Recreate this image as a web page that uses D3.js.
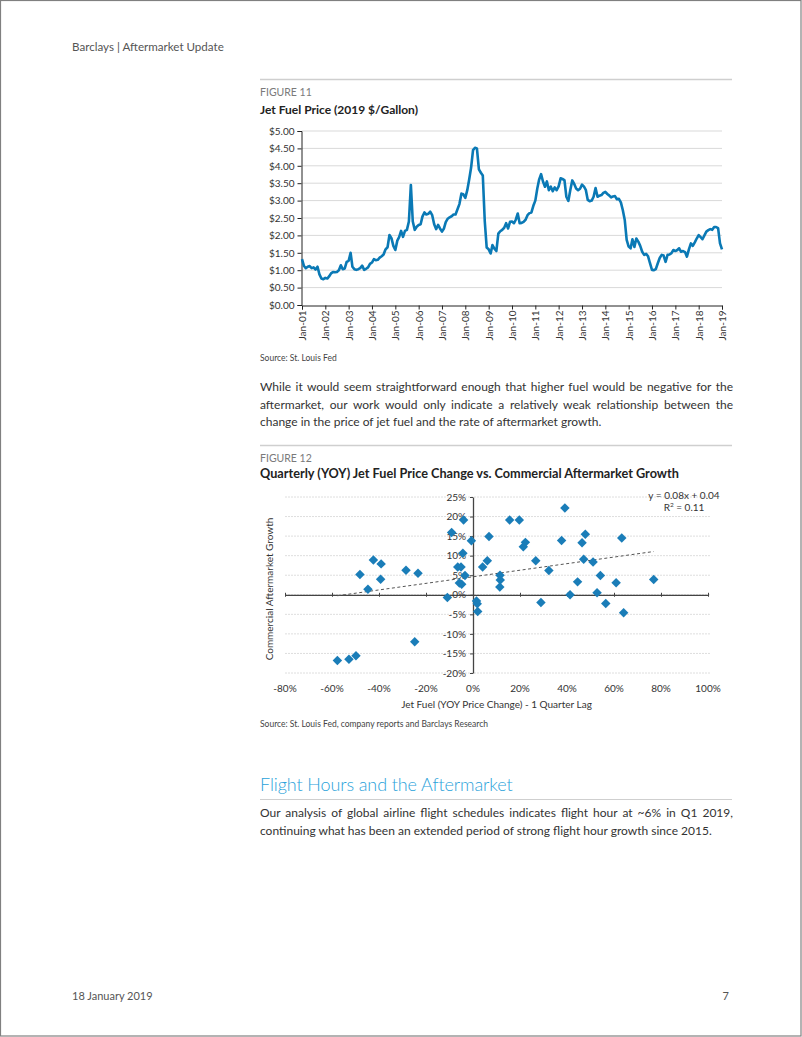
<!DOCTYPE html>
<html><head><meta charset="utf-8">
<script src="https://cdn.jsdelivr.net/npm/d3@7"></script>
<style>
body{margin:0;background:#fff;}
#page{position:relative;width:802px;height:1037px;overflow:hidden;font-family:Lato,sans-serif;color:#333;}
svg{position:absolute;left:0;top:0;}
.p{position:absolute;left:260px;width:473px;font-size:12px;line-height:17.6px;color:#333;}
.p div.j{text-align:justify;text-align-last:justify;}
</style></head>
<body><div id="page">
<svg id="svg" width="802" height="1037"></svg>
<div class="p" style="top:378px">
<div class="j">While it would seem straightforward enough that higher fuel would be negative for the</div>
<div class="j">aftermarket, our work would only indicate a relatively weak relationship between the</div>
<div>change in the price of jet fuel and the rate of aftermarket growth.</div>
</div>
<div class="p" style="top:804px">
<div class="j">Our analysis of global airline flight schedules indicates flight hour at ~6% in Q1 2019,</div>
<div>continuing what has been an extended period of strong flight hour growth since 2015.</div>
</div>
</div>
<script>
// ---------- Figure 11 data: monthly jet fuel price, Jan-2001 .. Jan-2019 ----------
const fuelStart = new Date(2001, 0, 1);
const jetFuelPrice = [
  1.32,1.12,1.06,1.10,1.12,1.06,1.08,1.02,1.10,0.88,0.76,0.74, // 2001
  0.78,0.76,0.82,0.91,0.95,0.94,0.95,1.00,1.14,1.03,1.05,1.24, // 2002
  1.27,1.50,1.10,1.03,1.01,1.03,1.06,1.13,1.01,1.04,1.08,1.18, // 2003
  1.22,1.32,1.29,1.30,1.36,1.40,1.45,1.60,1.66,2.01,1.92,1.70, // 2004
  1.58,1.85,1.95,2.13,1.96,2.13,2.16,2.40,3.45,2.40,2.16,2.25, // 2005
  2.30,2.32,2.54,2.66,2.60,2.62,2.68,2.58,2.32,2.18,2.30,2.20, // 2006
  2.11,2.20,2.38,2.48,2.52,2.55,2.60,2.60,2.75,2.90,3.20,3.18, // 2007
  3.08,3.30,3.60,3.95,4.45,4.52,4.50,3.90,3.80,3.72,2.40,1.65, // 2008
  1.60,1.48,1.72,1.62,1.55,2.05,2.12,2.16,2.22,2.35,2.20,2.39, // 2009
  2.40,2.35,2.45,2.63,2.35,2.36,2.39,2.45,2.58,2.64,2.66,2.85, // 2010
  3.00,3.35,3.60,3.76,3.55,3.40,3.55,3.30,3.40,3.27,3.38,3.30, // 2011
  3.41,3.64,3.62,3.59,3.11,2.99,3.30,3.58,3.48,3.35,3.30,3.34, // 2012
  3.46,3.40,3.31,3.02,2.98,3.00,3.11,3.36,3.11,3.14,3.16,3.22, // 2013
  3.25,3.19,3.15,3.09,3.12,3.13,3.04,3.05,2.95,2.73,2.44,1.87, // 2014
  1.68,1.63,1.89,1.67,1.91,1.82,1.70,1.53,1.44,1.47,1.40,1.20, // 2015
  1.01,1.00,1.03,1.20,1.35,1.44,1.42,1.24,1.44,1.45,1.49,1.58, // 2016
  1.55,1.58,1.63,1.53,1.55,1.52,1.39,1.60,1.77,1.70,1.80,1.91, // 2017
  2.01,1.95,1.89,2.00,2.11,2.15,2.18,2.16,2.24,2.24,2.21,1.77, // 2018
  1.60                                                         // 2019
];
const fuelXTicks = ["Jan-01","Jan-02","Jan-03","Jan-04","Jan-05","Jan-06","Jan-07","Jan-08","Jan-09","Jan-10","Jan-11","Jan-12","Jan-13","Jan-14","Jan-15","Jan-16","Jan-17","Jan-18","Jan-19"];
const fuelYTicks = [0,0.5,1,1.5,2,2.5,3,3.5,4,4.5,5];

// ---------- Figure 12 data: quarterly YOY fuel change vs aftermarket growth ----------
const fuelChange = [-0.577,-0.528,-0.498,-0.481,-0.424,-0.447,-0.391,-0.393,-0.285,-0.234,-0.248,-0.109,-0.091,-0.040,-0.007,-0.043,-0.065,-0.051,-0.058,-0.048,-0.034,0.015,0.018,0.020,0.041,0.061,0.068,0.115,0.116,0.114,0.156,0.197,0.214,0.223,0.267,0.323,0.289,0.391,0.377,0.413,0.445,0.464,0.478,0.471,0.511,0.542,0.528,0.565,0.609,0.633,0.641,0.769];
const aftermarketGrowth = [-0.168,-0.165,-0.156,0.052,0.089,0.014,0.079,0.040,0.063,0.055,-0.120,-0.007,0.159,0.191,0.138,0.106,0.071,0.071,0.030,0.027,0.049,-0.016,-0.023,-0.043,0.071,0.087,0.149,0.050,0.038,0.020,0.191,0.191,0.123,0.134,0.087,0.062,-0.020,0.222,0.139,0.000,0.033,0.133,0.155,0.091,0.084,0.049,0.005,-0.022,0.031,0.145,-0.046,0.039];
const scatterXTicks = [-0.8,-0.6,-0.4,-0.2,0,0.2,0.4,0.6,0.8,1.0];
const scatterYTicks = [-0.2,-0.15,-0.1,-0.05,0,0.05,0.1,0.15,0.2,0.25];
const trendSlope = 0.084, trendIntercept = 0.046;

const svg = d3.select("#svg");
const FONT = "Lato, sans-serif";
const TXT = "#333";
const pct = d => Math.round(d*100) + "%";   // hyphen-minus like the original

// page frame
svg.append("rect").attr("x",0.5).attr("y",0.5).attr("width",800.5).attr("height",1035.5)
  .attr("fill","none").attr("stroke","#808080").attr("stroke-width",1.2);

function text(x,y,s,opt={}){
  const t = svg.append("text").attr("x",x).attr("y",y).text(s)
    .attr("font-family",FONT).attr("font-size",opt.size||12).attr("fill",opt.fill||TXT)
    .attr("font-weight",opt.weight||400).attr("text-anchor",opt.anchor||"start");
  if (opt.ls) t.attr("letter-spacing",opt.ls);
  return t;
}
function hline(x1,x2,y,col,w){
  svg.append("line").attr("x1",x1).attr("x2",x2).attr("y1",y).attr("y2",y).attr("stroke",col).attr("stroke-width",w);
}

// header / footer
text(72,51,"Barclays | Aftermarket Update",{size:11.6,fill:"#555"});
text(72,1000,"18 January 2019",{size:11,fill:"#555"});
text(729,1000,"7",{size:11,fill:"#555",anchor:"end"});

// ===== Figure 11 =====
hline(260,732,79.5,"#cfcfcf",1.4);
text(260,95.5,"FIGURE 11",{size:10.5,fill:"#7a7a7a"});
text(260,114,"Jet Fuel Price (2019 $/Gallon)",{size:12,weight:700,fill:"#222"});

const fx = d3.scaleTime().domain([new Date(2001,0,1), new Date(2019,0,1)]).range([302,722]);
const fy = d3.scaleLinear().domain([0,5]).range([305,131]);
const g1 = svg.append("g");
g1.selectAll("line.grid").data(fuelYTicks.filter(d=>d>0)).join("line")
  .attr("x1",302).attr("x2",722).attr("y1",d=>fy(d)).attr("y2",d=>fy(d))
  .attr("stroke","#d9d9d9").attr("stroke-width",1);
const yAx1 = g1.append("g").attr("transform","translate(301.5,0)")
  .call(d3.axisLeft(fy).tickValues(fuelYTicks).tickSize(4).tickFormat(d=>"$"+d.toFixed(2)));
yAx1.select(".domain").attr("stroke","#222");
yAx1.selectAll(".tick line").attr("stroke","#222");
yAx1.selectAll("text").attr("font-family",FONT).attr("font-size",10).attr("fill",TXT).attr("x",-7);
const tickDates = fuelXTicks.map((d,i)=>new Date(2001+i,0,1));
const xAx1 = g1.append("g").attr("transform","translate(0,305.5)")
  .call(d3.axisBottom(fx).tickValues(tickDates).tickSize(4).tickFormat((d,i)=>fuelXTicks[i]));
xAx1.select(".domain").attr("stroke","#222");
xAx1.selectAll(".tick line").attr("stroke","#222");
xAx1.selectAll("text").attr("font-family",FONT).attr("font-size",10).attr("fill",TXT)
  .attr("transform","rotate(-90)").attr("text-anchor","end").attr("dy","0.35em").attr("x",-5).attr("y",0);
const fuelData = jetFuelPrice.map((v,i)=>({d:new Date(2001, i, 1), v}));
g1.append("path").datum(fuelData)
  .attr("d", d3.line().x(d=>fx(d.d)).y(d=>fy(d.v)))
  .attr("fill","none").attr("stroke","#0a79b5").attr("stroke-width",2.6).attr("stroke-linejoin","round");
text(260,361,"Source: St. Louis Fed",{size:8.5,fill:"#444"});

// ===== Figure 12 =====
hline(260,732,445.5,"#cfcfcf",1.4);
text(260,462,"FIGURE 12",{size:10.5,fill:"#7a7a7a"});
text(260,477.5,"Quarterly (YOY) Jet Fuel Price Change vs. Commercial Aftermarket Growth",{size:12.7,weight:700,fill:"#222"});

const sx = d3.scaleLinear().domain([-0.8,1.0]).range([285,708]);
const sy = d3.scaleLinear().domain([-0.2,0.25]).range([673,497]);
const g2 = svg.append("g");
g2.selectAll("line.grid").data(scatterYTicks).join("line")
  .attr("x1",285).attr("x2",710).attr("y1",d=>sy(d)).attr("y2",d=>sy(d))
  .attr("stroke","#dedede").attr("stroke-width",1).attr("stroke-dasharray","2,1");
// x axis along y=0
const xAx2 = g2.append("g").attr("transform",`translate(0,${sy(0)})`)
  .call(d3.axisBottom(sx).tickValues(scatterXTicks).tickSize(3).tickSizeOuter(0).tickFormat(""));
xAx2.select(".domain").attr("stroke","#444").attr("stroke-width",1.3);
xAx2.selectAll(".tick line").attr("stroke","#444").attr("y1",-2).attr("y2",2);
g2.selectAll("text.xl").data(scatterXTicks).join("text").attr("class","xl")
  .attr("x",d=>sx(d)).attr("y",692).attr("text-anchor","middle").text(pct)
  .attr("font-family",FONT).attr("font-size",10).attr("fill",TXT);
// y axis along x=0
const yAx2 = g2.append("g").attr("transform",`translate(${sx(0)},0)`)
  .call(d3.axisLeft(sy).tickValues(scatterYTicks).tickSize(3).tickSizeOuter(0).tickFormat(pct));
yAx2.select(".domain").attr("stroke","#444").attr("stroke-width",1.3);
yAx2.selectAll(".tick line").attr("stroke","#444");
yAx2.selectAll("text").attr("font-family",FONT).attr("font-size",10).attr("fill",TXT).attr("x",-7);
// trend line
const tx0 = d3.min(fuelChange), tx1 = d3.max(fuelChange);
g2.append("line").attr("x1",sx(tx0)).attr("y1",sy(trendSlope*tx0+trendIntercept))
  .attr("x2",sx(tx1)).attr("y2",sy(trendSlope*tx1+trendIntercept))
  .attr("stroke","#555").attr("stroke-width",1).attr("stroke-dasharray","3,2.5");
// points
const pts = fuelChange.map((x,i)=>({x, y:aftermarketGrowth[i]}));
g2.selectAll("path.pt").data(pts).join("path").attr("class","pt")
  .attr("d", d3.symbol(d3.symbolSquare, 45)())
  .attr("transform", d=>`translate(${sx(d.x)},${sy(d.y)}) rotate(45)`)
  .attr("fill","#1a7db8");
// equation
text(684,499,"y = 0.08x + 0.04",{size:10,anchor:"middle"});
const r2 = text(684,511,"R",{size:10,anchor:"middle"});
r2.append("tspan").text("2").attr("font-size",6.5).attr("dy",-4);
r2.append("tspan").text(" = 0.11").attr("dy",4);
// axis titles
text(0,0,"Commercial Aftermarket Growth",{size:10,anchor:"middle"})
  .attr("transform","translate(273,589) rotate(-90)");
text(496.5,708,"Jet Fuel (YOY Price Change) - 1 Quarter Lag",{size:10,anchor:"middle"});
text(260,727,"Source: St. Louis Fed, company reports and Barclays Research",{size:8.5,fill:"#444"});

// ===== Section heading =====
text(260,791,"Flight Hours and the Aftermarket",{size:18,fill:"#2aa2da",weight:300,ls:-0.1});
hline(260,732,799.5,"#cfcfcf",1.2);
</script>
</body></html>
